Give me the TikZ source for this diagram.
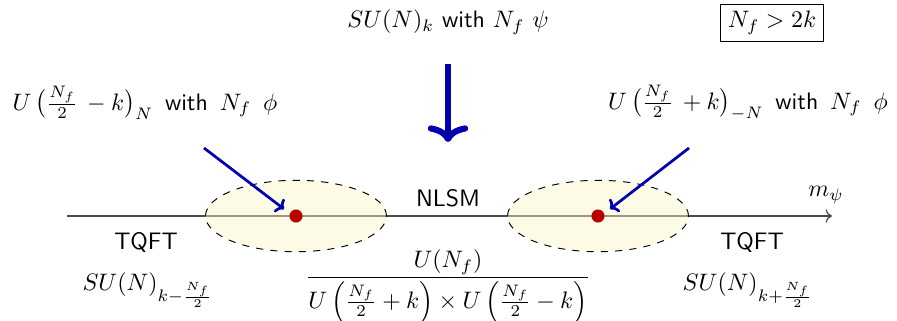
\documentclass[tikz,border=0pt]{standalone}
\usepackage{amsmath}
\usetikzlibrary{shapes.geometric,calc,arrows.meta}
\definecolor{arrblue}{RGB}{0,0,175}
\definecolor{dotred}{RGB}{185,0,0}
\definecolor{blobfill}{RGB}{250,245,198}
\begin{document}
\begin{tikzpicture}[x=0.42pt,y=-0.42pt,
  lbl/.style={inner sep=1pt},
  blob/.style={draw=black,dashed,fill=blobfill,fill opacity=0.45,draw opacity=1,ellipse,minimum width=76pt,minimum height=30pt,inner sep=0pt},
  dotnode/.style={circle,fill=dotred,inner sep=0pt,minimum size=5.5pt},
  bluearr/.style={arrblue,line width=1.15pt,-{Computer Modern Rightarrow[width=7pt,length=3pt]}},
  axis/.style={draw=black!70,line width=0.5pt,->}]
\useasboundingbox (0,0) rectangle (897,320);
% axis
\coordinate (axL) at (67,216);
\coordinate (axR) at (832,216);
\draw[axis] (axL) -- (axR);
\node[lbl] (mpsi) at (826,195) {$m_\psi$};
% blobs
\node[blob] (bl) at (296,216) {};
\node[blob] (br) at (598,216) {};
\node[dotnode] (dl) at (296,216) {};
\node[dotnode] (dr) at (598,216) {};
% top
\node[lbl] (top) at (448,22) {$SU(N)_k$ \textsf{with} $N_f\ \psi$};
\node[draw,inner sep=3pt,line width=0.4pt] (cond) at (772,23) {$N_f>2k$};
\coordinate (bigS) at (448,64);
\coordinate (bigE) at (448,142);
\draw[arrblue,line width=2.6pt,-{Computer Modern Rightarrow[width=17pt,length=7pt]}] (bigS) -- (bigE);
% side labels
\node[lbl] (ul) at (145,103) {$U\,\big(\tfrac{N_f}{2}\,-k\big)_N$\ \,\textsf{with}\ \,$N_f\ \,\phi$};
\node[lbl] (ur) at (748,103) {$U\,\big(\tfrac{N_f}{2}\,+k\big)_{-N}$\ \,\textsf{with}\ \,$N_f\ \,\phi$};
\coordinate (al) at (204,148);
\coordinate (ar) at (689,148);
\draw[bluearr] (al) -- ($(dl)+(-12,-7)$);
\draw[bluearr] (ar) -- ($(dr)+(12,-7)$);
% phase labels
\node[lbl] (nlsm) at (448,198) {\textsf{NLSM}};
\node[lbl] (tqL) at (146,242) {\textsf{TQFT}};
\node[lbl] (tqR) at (752,242) {\textsf{TQFT}};
\node[lbl] (suL) at (148,290) {$SU(N)_{k-\frac{N_f}{2}}$};
\node[lbl] (suR) at (748,290) {$SU(N)_{k+\frac{N_f}{2}}$};
\node[lbl] (frac) at (448,287) {$\dfrac{U(N_f)}{U\left(\frac{N_f}{2}+k\right)\times U\left(\frac{N_f}{2}-k\right)}$};
\end{tikzpicture}
\end{document}
